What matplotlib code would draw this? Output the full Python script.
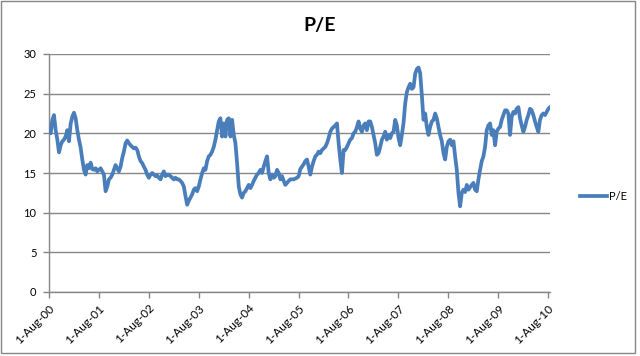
import matplotlib
matplotlib.use("Agg")
import matplotlib.pyplot as plt
import matplotlib.dates as mdates
from matplotlib.patches import Rectangle
import pandas as pd

# P/E readings, roughly every 12 days, Aug 2000 - Aug 2010
pe = [
    20.5, 20.0, 21.7, 22.3, 20.4, 19.2, 17.6, 18.5, 19.0, 19.2,
    19.6, 20.4, 19.0, 21.2, 22.1, 22.6, 21.9, 20.4, 19.2, 18.2,
    16.7, 15.4, 14.8, 16.0, 15.6, 16.3, 15.5, 15.4, 15.6, 15.2,
    15.4, 15.6, 15.2, 14.8, 12.7, 13.3, 14.2, 14.4, 14.8, 15.4,
    16.0, 15.6, 15.2, 15.8, 16.9, 17.7, 18.75, 19.1, 18.75, 18.5,
    18.3, 18.1, 18.2, 17.9, 17.1, 16.5, 16.25, 15.8, 15.4, 14.8,
    14.4, 14.8, 15.0, 14.8, 14.6, 14.7, 14.4, 14.2, 14.8, 15.2,
    14.6, 14.8, 14.8, 14.6, 14.4, 14.2,
    # 2003
    14.4, 14.2, 14.2, 14.0, 13.75, 13.3, 12.1, 11.0, 11.5, 11.9,
    12.3, 12.9, 13.1, 12.7, 13.3, 14.2, 15.0, 15.6, 15.4, 16.5,
    17.1, 17.3, 17.7, 18.3, 19.2, 20.4, 21.5, 21.9, 19.6, 21.25,
    19.6, 21.7, 21.9, 19.6, 21.7, 19.8, 18.75, 16.25, 13.3, 12.3,
    11.9, 12.5, 12.7, 13.1, 13.5, 13.1, 13.5, 14.0, 14.4, 14.8,
    15.0, 15.4, 15.0, 15.8, 16.5, 17.1, 15.0, 14.2, 14.8, 14.4,
    14.6, 15.4, 15.0, 14.2, 14.6, 14.0, 13.5, 13.75, 14.0, 14.2,
    14.2, 14.2, 14.3, 14.4, 14.6,
    # 2005
    15.5, 15.8, 16.1, 16.5, 16.7, 15.8, 14.8, 15.8, 16.5, 17.1,
    17.3, 17.7, 17.5, 17.9, 18.1, 18.3, 18.75, 19.4, 20.2, 20.6,
    20.8, 21.0, 21.25, 18.8, 16.7, 15.0, 17.9, 17.9, 18.3, 18.75,
    19.2, 19.4, 20.0, 20.2, 20.8, 21.5, 20.6, 20.2, 21.0, 21.25,
    20.4, 21.5, 21.5, 20.8, 19.8, 18.75, 17.3, 17.5, 18.3, 19.2,
    19.6, 20.2, 19.2, 19.8, 19.4, 20.0, 20.2, 21.7, 21.0, 19.4,
    18.5, 19.8, 21.3, 23.75, 25.2, 25.8, 26.25, 25.6, 25.8, 27.5,
    28.1, 28.3, 27.6, 24.8, 21.7,
    # 2007 peak onwards
    22.5, 20.8, 19.8, 20.8, 21.5, 21.7, 22.5, 21.9, 20.8, 19.8,
    19.0, 17.5, 16.7, 18.3, 19.0, 19.2, 18.5, 19.0, 17.1, 15.4,
    12.5, 10.8, 12.5, 12.9, 12.6, 13.5, 12.9, 13.2, 13.5, 13.75,
    12.9, 12.7, 14.2, 15.4, 16.5, 17.1, 18.3, 20.4, 21.0, 21.25,
    19.8, 20.4, 18.5, 20.2, 20.6, 20.8, 21.7, 22.3, 22.9, 22.9,
    22.5, 19.8, 22.1, 22.7, 22.5, 23.1, 23.3, 21.9, 21.0, 20.2,
    20.8, 21.7, 22.3, 23.1, 22.9, 22.3, 21.5, 20.8, 20.2, 21.7,
    22.3, 22.5, 22.3, 22.7, 23.1, 23.3,
]
first_day = "2000-08-01"
last_day = "2010-08-15"
dates = pd.date_range(first_day, last_day, periods=len(pe))

tick_years = list(range(2000, 2011))
tick_dates = [pd.Timestamp(year=y, month=8, day=1) for y in tick_years]

blue = "#4A7EBB"
grey = "#868686"
plt.rcParams["font.family"] = ["Lato", "DejaVu Sans"]

fig = plt.figure(figsize=(6.4, 3.56), dpi=100)
ax = fig.add_axes([49 / 640, 1 - 292 / 356, 501 / 640, 238 / 356])

ax.plot(dates, pe, color=blue, lw=2.7, label="P/E", zorder=3)

ax.set_ylim(0, 30)
ax.set_yticks(range(0, 31, 5))
ax.set_xlim(pd.Timestamp(first_day), pd.Timestamp(last_day))
ax.set_xticks(tick_dates)
ax.xaxis.set_major_formatter(mdates.DateFormatter("%-d-%b-%y"))

ax.grid(axis="y", color=grey, lw=1)
ax.set_axisbelow(True)
for s in ["top", "right"]:
    ax.spines[s].set_visible(False)
for s in ["left", "bottom"]:
    ax.spines[s].set_color(grey)
    ax.spines[s].set_linewidth(1)
ax.tick_params(axis="both", colors=grey, labelcolor="black", labelsize=8, length=4, width=1)
ax.tick_params(axis="y", pad=5)
ax.tick_params(axis="x", labelsize=8.5)
plt.setp(ax.get_xticklabels(), rotation=45, ha="right", va="top", rotation_mode="anchor")

fig.text(0.5, 1 - 25 / 356, "P/E", ha="center", va="center", fontsize=14, fontweight="bold")

fig.legend(loc="center left", bbox_to_anchor=(580 / 640, 1 - 196 / 356), frameon=False,
           fontsize=8, handlelength=2.4, handletextpad=0.2, borderpad=0, borderaxespad=0)

fig.patches.append(Rectangle((1 / 640, 3 / 356), 634 / 640, 352 / 356, transform=fig.transFigure,
                             fill=False, edgecolor=grey, lw=1))

fig.savefig("out.png", dpi=100)
